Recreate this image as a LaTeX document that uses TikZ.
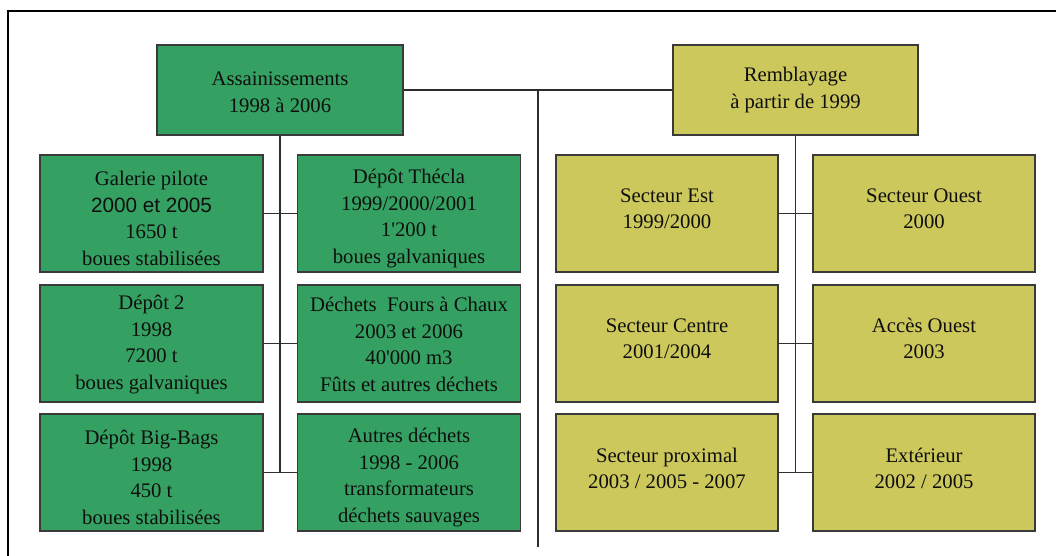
\documentclass[tikz,border=0pt]{standalone}
\usepackage{fontspec}
\setmainfont{Liberation Serif}[Ligatures=TeXOff]
\newfontfamily\arialf{Liberation Sans}
\definecolor{gfill}{RGB}{52,161,98}
\definecolor{yfill}{RGB}{205,200,92}
\definecolor{boxline}{RGB}{58,58,58}
\definecolor{txtc}{RGB}{15,15,15}
\definecolor{conn}{RGB}{45,45,45}
\tikzset{
  x=1pt,y=-1pt,
  box/.style={draw=boxline, line width=1.2pt, inner sep=0pt, minimum width=223pt, minimum height=117pt},
  gbox/.style={box, fill=gfill},
  ybox/.style={box, fill=yfill},
  topbox/.style={minimum width=246pt, minimum height=90pt},
  txt/.style={align=center, inner sep=0pt, text=txtc, font=\fontsize{20.7}{26.5}\selectfont},
  conline/.style={draw=conn, line width=1.2pt},
  frameline/.style={draw=black, line width=2pt}
}
\begin{document}
\begin{tikzpicture}
\useasboundingbox (0,0) rectangle (1056,556);
% frame
\coordinate (ftr) at (1056,11);
\coordinate (ftl) at (8,11);
\coordinate (fbl) at (8,556);
\draw[frameline] (ftr) -- (ftl) -- (fbl);

% top boxes
\node[gbox, topbox] (ass) at (280,90) {};
\node[ybox, topbox, minimum width=245pt] (rem) at (795.5,90) {};

% left boxes
\node[gbox] (gp) at (151.5,213.5) {};
\node[gbox] (dt) at (409,213.5) {};
\node[gbox] (d2) at (151.5,343.5) {};
\node[gbox] (fc) at (409,343.5) {};
\node[gbox] (bb) at (151.5,472.5) {};
\node[gbox] (ad) at (409,472.5) {};

% right boxes
\node[ybox, minimum width=222pt] (se) at (667,213.5) {};
\node[ybox, minimum width=222pt] (so) at (924,213.5) {};
\node[ybox, minimum width=222pt] (sc) at (667,343.5) {};
\node[ybox, minimum width=222pt] (ao) at (924,343.5) {};
\node[ybox, minimum width=222pt] (sp) at (667,472.5) {};
\node[ybox, minimum width=222pt] (ex) at (924,472.5) {};

% connectors
\coordinate (midtop) at (538,90);
\coordinate (midbot) at (538,547);
\coordinate (lbot) at (280,472.5);
\coordinate (rbot) at (795.5,472.5);
\draw[conline] (ass.east) -- (rem.west);
\draw[conline] (midtop) -- (midbot);
\draw[conline] (ass.south) -- (lbot);
\draw[conline] (rem.south) -- (rbot);
\draw[conline] (gp.east) -- (dt.west);
\draw[conline] (d2.east) -- (fc.west);
\draw[conline] (bb.east) -- (ad.west);
\draw[conline] (se.east) -- (so.west);
\draw[conline] (sc.east) -- (ao.west);
\draw[conline] (sp.east) -- (ex.west);

% texts
\node[txt, yshift=-2pt] (ass-t) at (ass.center) {Assainissements\\1998 à 2006};
\node[txt] (rem-t) at (rem.center) {Remblayage\\à partir de 1999};
\node[txt, yshift=-5pt] (gp-t) at (gp.center) {Galerie pilote\\{\arialf 2000 et 2005}\\1650 t\\boues stabilisées};
\node[txt, yshift=-5pt] (dt-t) at (dt.center) {Dépôt Thécla\\1999/2000/2001\\1'200 t\\boues galvaniques};
\node[txt, yshift=-1pt] (d2-t) at (d2.center) {Dépôt 2\\1998\\7200 t\\boues galvaniques};
\node[txt, yshift=-1pt] (fc-t) at (fc.center) {Déchets\ \ Fours à Chaux\\2003 et 2006\\40'000 m3\\Fûts et autres déchets};
\node[txt, yshift=-5pt] (bb-t) at (bb.center) {Dépôt Big-Bags\\1998\\450 t\\boues stabilisées};
\node[txt, yshift=-5pt] (ad-t) at (ad.center) {Autres déchets\\1998 - 2006\\transformateurs\\déchets sauvages};
\node[txt, yshift=5pt] (se-t) at (se.center) {Secteur Est\\1999/2000};
\node[txt, yshift=5pt] (so-t) at (so.center) {Secteur Ouest\\2000};
\node[txt, yshift=5pt] (sc-t) at (sc.center) {Secteur Centre\\2001/2004};
\node[txt, yshift=5pt] (ao-t) at (ao.center) {Accès Ouest\\2003};
\node[txt, yshift=4pt] (sp-t) at (sp.center) {Secteur proximal\\2003 / 2005 - 2007};
\node[txt, yshift=4pt] (ex-t) at (ex.center) {Extérieur\\2002 / 2005};
\end{tikzpicture}
\end{document}
